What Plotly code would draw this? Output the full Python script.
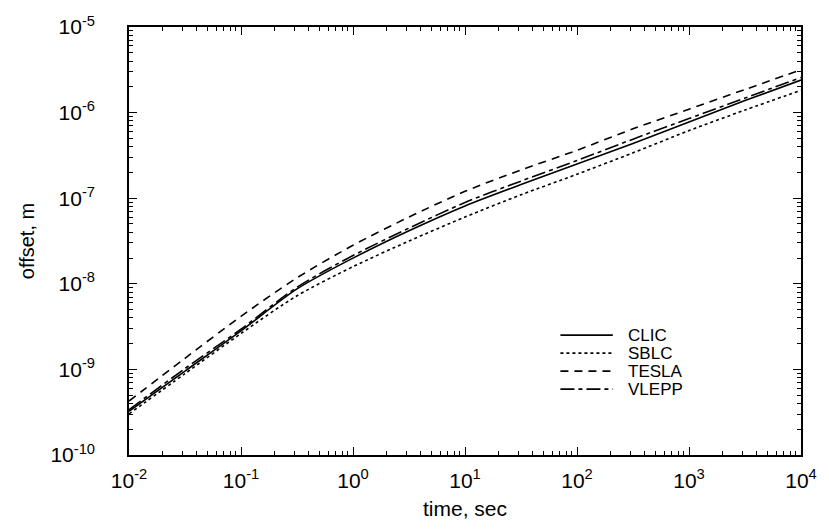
import plotly.graph_objects as go

# log10(time) sample points
log_t = [-2, -1.5, -1, -0.5, 0, 0.5, 1, 1.5, 2, 2.5, 3, 3.5, 4]

# log10(offset) for each machine
clic_log = [-9.49, -9.02, -8.55, -8.06, -7.70, -7.38, -7.09, -6.84, -6.60, -6.36, -6.11, -5.86, -5.62]
sblc_log = [-9.52, -9.05, -8.58, -8.14, -7.80, -7.50, -7.22, -6.96, -6.72, -6.47, -6.21, -5.97, -5.74]
tesla_log = [-9.37, -8.87, -8.38, -7.93, -7.55, -7.22, -6.92, -6.67, -6.44, -6.19, -5.96, -5.73, -5.50]
vlepp_log = [-9.47, -8.99, -8.53, -8.04, -7.67, -7.35, -7.05, -6.80, -6.56, -6.31, -6.07, -5.83, -5.59]

series_names = ["CLIC", "SBLC", "TESLA", "VLEPP"]
series_vals = [clic_log, sblc_log, tesla_log, vlepp_log]
series_dash = ["solid", "dot", "8px,6px", "14px,4px,4px,4px"]

x_exps = [-2, -1, 0, 1, 2, 3, 4]
y_exps = [-10, -9, -8, -7, -6, -5]

time_vals = [10 ** v for v in log_t]

fig = go.Figure()
for name, vals, dash in zip(series_names, series_vals, series_dash):
    fig.add_trace(go.Scatter(
        x=time_vals, y=[10 ** v for v in vals], mode="lines", name=name,
        line=dict(color="black", width=1.6, dash=dash, shape="spline", smoothing=0.8),
        showlegend=False,
    ))

font_family = "Liberation Sans, Arial, sans-serif"

x_minor = [k * 10 ** e for e in range(-2, 4) for k in range(2, 10)]
y_minor = [k * 10 ** e for e in range(-10, -5) for k in range(2, 10)]

fig.update_xaxes(
    type="log", range=[-2, 4],
    tickvals=[10 ** e for e in x_exps],
    ticktext=["10<sup>%d</sup>" % e for e in x_exps],
    ticks="inside", ticklen=8, tickwidth=1.2, tickcolor="black",
    minor=dict(tickvals=x_minor, ticks="inside", ticklen=4, tickwidth=1, tickcolor="black"),
    showline=True, linecolor="black", linewidth=1.6, mirror="ticks",
    showgrid=False, zeroline=False,
    ticklabelstandoff=6,
    tickfont=dict(size=21, color="black", family=font_family),
    title=dict(text="time, sec", font=dict(size=21, color="black", family=font_family), standoff=10),
)
fig.update_yaxes(
    type="log", range=[-10, -5],
    tickvals=[10 ** e for e in y_exps],
    ticktext=["10<sup>%d</sup>" % e for e in y_exps],
    ticks="inside", ticklen=8, tickwidth=1.2, tickcolor="black",
    minor=dict(tickvals=y_minor, ticks="inside", ticklen=4, tickwidth=1, tickcolor="black"),
    showline=True, linecolor="black", linewidth=1.6, mirror="ticks",
    showgrid=False, zeroline=False,
    ticklabelstandoff=28,
    tickfont=dict(size=21, color="black", family=font_family),
    title=dict(text="offset, m", font=dict(size=20, color="black", family=font_family), standoff=10),
)

# hand-drawn legend (sample line + label), placed in paper coordinates
leg_x0, leg_x1, leg_tx = 0.642, 0.720, 0.739
leg_rows = [0.280, 0.238, 0.196, 0.154]
for name, dash, yy in zip(series_names, series_dash, leg_rows):
    fig.add_shape(type="line", xref="paper", yref="paper", x0=leg_x0, x1=leg_x1, y0=yy, y1=yy,
                  line=dict(color="black", width=1.6, dash=dash))
    fig.add_annotation(xref="paper", yref="paper", x=leg_tx, y=yy, text=name, showarrow=False,
                       xanchor="left", yanchor="middle",
                       font=dict(size=17, color="black", family=font_family))

fig.update_layout(
    width=829, height=531,
    margin=dict(l=129, r=18, t=27, b=76),
    paper_bgcolor="white", plot_bgcolor="white",
    font=dict(family=font_family, color="black"),
    showlegend=False,
)

fig.write_html("out.html")
